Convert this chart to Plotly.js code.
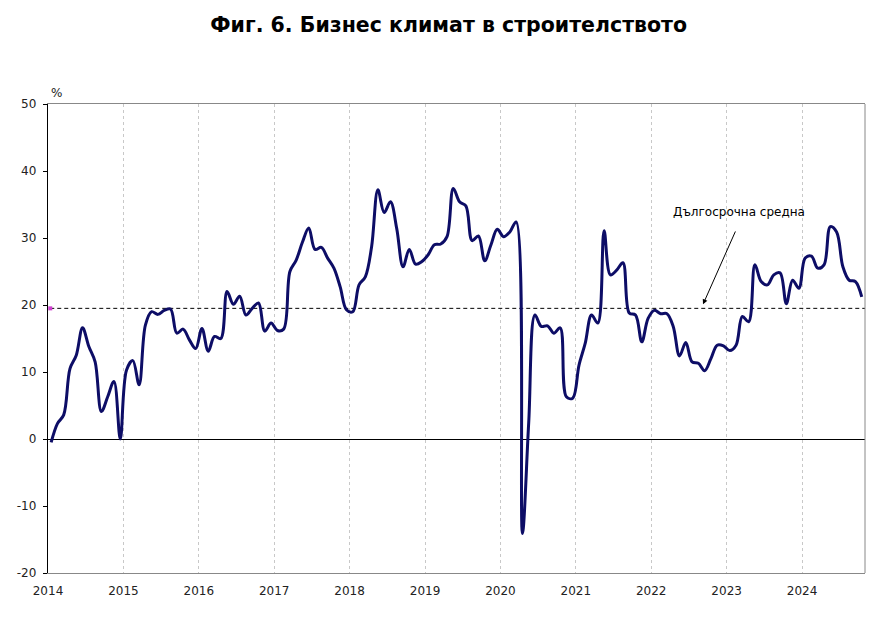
<!DOCTYPE html>
<html>
<head>
<meta charset="utf-8">
<script src="https://cdn.plot.ly/plotly-3.0.1.min.js"></script>
<style>html,body{margin:0;padding:0;background:#fff;}#chart{width:892px;height:630px;}</style>
</head>
<body>
<div id="chart"></div>
<script>
// Monthly data, Jan 2014 - Oct 2024
const startYear = 2014;
const businessClimate = [
  -0.5, 2.3, 3.6, 10.5, 12.5, 16.6, 13.8, 11.5, 4.1, 6.3, 8.6, 0.0,
  10.3, 11.7, 8.1, 17.0, 19.0, 18.6, 19.2, 19.4, 15.8, 16.4, 14.8, 13.5,
  16.5, 13.1, 15.3, 15.0, 22.0, 20.1, 21.3, 18.5, 19.5, 20.3, 16.1, 17.3,
  16.2, 16.4, 25.0, 26.7, 29.4, 31.5, 28.3, 28.6, 27.0, 25.5, 22.7, 19.3,
  19.0, 23.0, 24.2, 28.7, 37.2, 33.8, 35.4, 31.4, 25.7, 28.3, 26.1, 26.5,
  27.5, 29.0, 29.1, 30.2, 37.4, 35.4, 34.8, 29.6, 30.3, 26.6, 29.0, 31.3,
  30.2, 30.9, 32.4, -14.1, 2.4, 18.5, 16.8, 16.9, 15.8, 16.6, 6.3, 6.1,
  11.0, 14.3, 18.5, 17.3, 31.1, 24.5, 25.2, 26.3, 18.8, 18.5, 14.5, 18.0,
  19.2, 18.7, 18.7, 16.8, 12.4, 14.4, 11.5, 11.3, 10.2, 12.0, 14.0, 13.9,
  13.2, 14.0, 18.3, 17.5, 26.0, 23.5, 23.0, 24.5, 24.8, 20.2, 23.7, 22.5,
  27.0, 27.3, 25.5, 26.0, 31.7, 30.9, 25.7, 23.7, 23.5, 21.2
];
const longTermAverage = 19.5;
const yearTicks = [2014, 2015, 2016, 2017, 2018, 2019, 2020, 2021, 2022, 2023, 2024];
const yTicks = [-20, -10, 0, 10, 20, 30, 40, 50];
const titleText = "Фиг. 6. Бизнес климат в строителството";
const avgLabel = "Дългосрочна средна";

const xDates = businessClimate.map((v, i) => startYear + (i + 0.5) / 12);
const xMax = 2024.835;

const avgX = [startYear + 0.03, xMax];
const avgY = [longTermAverage, longTermAverage];

const traces = [
  {
    x: avgX, y: avgY, type: 'scatter', mode: 'lines',
    line: {color: '#000000', width: 1, dash: '4px,3px'},
    hoverinfo: 'skip', showlegend: false
  },
  {
    x: [avgX[0]], y: [avgY[0]], type: 'scatter', mode: 'markers',
    marker: {color: '#d040d0', size: 4, symbol: 'square'},
    hoverinfo: 'skip', showlegend: false
  },
  {
    x: xDates, y: businessClimate, type: 'scatter', mode: 'lines',
    line: {color: '#0d0d66', width: 3, shape: 'spline', smoothing: 1},
    showlegend: false
  }
];

const layout = {
  width: 892, height: 630,
  margin: {l: 48, r: 27, t: 104, b: 57},
  paper_bgcolor: '#ffffff', plot_bgcolor: '#ffffff',
  font: {family: 'DejaVu Sans, Verdana, sans-serif', size: 12, color: '#222'},
  title: {
    text: '<b>' + titleText + '</b>',
    x: 0.503, xanchor: 'center', y: 1 - 25 / 630, yref: 'container', yanchor: 'middle',
    font: {family: 'DejaVu Sans, Verdana, sans-serif', size: 20.5, color: '#000'}
  },
  xaxis: {
    type: 'linear', range: [startYear, xMax],
    tickvals: yearTicks, ticktext: yearTicks.map(String),
    ticks: '', ticklabelstandoff: 7,
    showgrid: true, gridcolor: '#c8c8c8', griddash: 'dot', gridwidth: 1,
    showline: true, linecolor: '#888', linewidth: 1, mirror: true,
    zeroline: false, tickfont: {size: 12, color: '#222'}, fixedrange: true
  },
  yaxis: {
    range: [-20, 50], tickvals: yTicks, ticktext: yTicks.map(String),
    ticks: 'outside', ticklen: 4, tickcolor: '#000', tickwidth: 1, ticklabelstandoff: 4,
    showgrid: false, showline: true, linecolor: '#000', linewidth: 1.3,
    zeroline: true, zerolinecolor: '#000', zerolinewidth: 1,
    tickfont: {size: 12, color: '#222'}, fixedrange: true
  },
  shapes: [
    {type: 'line', xref: 'paper', yref: 'paper', x0: 1, x1: 1, y0: 0, y1: 1, line: {color: '#888', width: 1}}
  ],
  annotations: [
    {text: '%', xref: 'paper', yref: 'paper', x: 0.011, y: 1.005, xanchor: 'center', yanchor: 'bottom',
     showarrow: false, font: {size: 12, color: '#222'}},
    {text: avgLabel, xref: 'x', yref: 'y', x: 2023.165, y: 33.9,
     showarrow: false, xanchor: 'center', yanchor: 'middle',
     font: {size: 12, color: '#000'}},
    {text: '', xref: 'x', yref: 'y', x: 2022.687, y: 20.1,
     ax: 2023.125, ay: 31.2, axref: 'x', ayref: 'y',
     showarrow: true, arrowhead: 2, arrowsize: 1, arrowwidth: 1, arrowcolor: '#000', standoff: 0}
  ]
};

Plotly.newPlot('chart', traces, layout, {displayModeBar: false, staticPlot: true});
</script>
</body>
</html>
